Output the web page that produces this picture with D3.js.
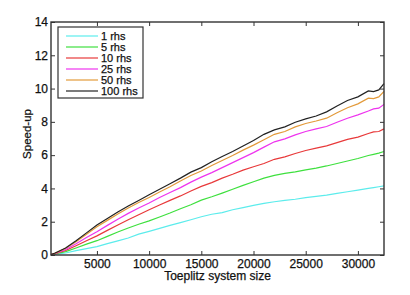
<!DOCTYPE html>
<html>
<head>
<meta charset="utf-8">
<script src="https://cdn.jsdelivr.net/npm/d3@7"></script>
<style>
    body { margin: 0; background: #fff; }
    text { font-family: "Liberation Sans", Arial, sans-serif; fill: #111; stroke: #111; stroke-width: 0.25px; }
</style>
</head>
<body>
<svg id="graphSpeedup"></svg>
<script>
// problem sizes (x) and measured speed-up for each number of right-hand sides
const sizes = [600, 1000, 2000, 3000, 4000, 5000, 6000, 7000, 8000, 9000, 10000, 11000, 12000, 13000,
    14000, 15000, 16000, 17000, 18000, 19000, 20000, 21000, 22000, 23000, 24000, 25000, 26000, 27000,
    28000, 29000, 30000, 31000, 31500, 32000, 32500];

const rhs1 = [0.01, 0.04, 0.12, 0.26, 0.38, 0.5, 0.68, 0.85, 1.02, 1.25, 1.42, 1.6, 1.78, 1.95,
    2.12, 2.3, 2.45, 2.55, 2.72, 2.85, 2.98, 3.1, 3.2, 3.28, 3.35, 3.45, 3.52, 3.6,
    3.7, 3.8, 3.9, 4.0, 4.05, 4.1, 4.15];
const rhs5 = [0.02, 0.06, 0.2, 0.42, 0.65, 0.86, 1.12, 1.38, 1.62, 1.85, 2.05, 2.28, 2.52, 2.78,
    3.02, 3.3, 3.5, 3.72, 3.95, 4.18, 4.4, 4.62, 4.78, 4.9, 5.0, 5.12, 5.22, 5.35,
    5.5, 5.65, 5.8, 5.98, 6.05, 6.12, 6.22];
const rhs10 = [0.02, 0.08, 0.27, 0.56, 0.86, 1.15, 1.48, 1.8, 2.12, 2.42, 2.72, 3.0, 3.28, 3.55,
    3.85, 4.12, 4.35, 4.62, 4.85, 5.1, 5.3, 5.5, 5.75, 5.9, 6.1, 6.28, 6.42, 6.56,
    6.75, 6.95, 7.08, 7.3, 7.4, 7.42, 7.58];
const rhs25 = [0.02, 0.1, 0.33, 0.68, 1.05, 1.4, 1.78, 2.15, 2.5, 2.82, 3.12, 3.45, 3.76, 4.05,
    4.38, 4.68, 4.95, 5.25, 5.55, 5.85, 6.15, 6.48, 6.8, 6.98, 7.22, 7.42, 7.58, 7.72,
    7.98, 8.22, 8.42, 8.65, 8.78, 8.82, 9.05];
const rhs50 = [0.02, 0.11, 0.4, 0.8, 1.25, 1.7, 2.08, 2.46, 2.82, 3.15, 3.46, 3.78, 4.1, 4.45,
    4.78, 5.05, 5.38, 5.68, 5.98, 6.3, 6.6, 6.92, 7.25, 7.42, 7.7, 7.9, 8.05, 8.22,
    8.55, 8.85, 9.08, 9.42, 9.4, 9.5, 9.83];
const rhs100 = [0.02, 0.12, 0.42, 0.86, 1.33, 1.8, 2.2, 2.58, 2.95, 3.28, 3.62, 3.95, 4.28, 4.62,
    4.98, 5.25, 5.6, 5.92, 6.22, 6.55, 6.88, 7.25, 7.52, 7.7, 7.98, 8.18, 8.35, 8.6,
    8.95, 9.28, 9.5, 9.86, 9.82, 9.92, 10.3];

const seriesNames = ["1 rhs", "5 rhs", "10 rhs", "25 rhs", "50 rhs", "100 rhs"];
const seriesValues = [rhs1, rhs5, rhs10, rhs25, rhs50, rhs100];
const seriesColors = ["#5cecec", "#3ee03e", "#e8393a", "#ee33ee", "#e39a3a", "#222222"];

const xTicks = [5000, 10000, 15000, 20000, 25000, 30000];
const yTicks = [0, 2, 4, 6, 8, 10, 12, 14];

let margin = {top: 22, right: 26, bottom: 40, left: 51};
let width = 410 - margin.left - margin.right;
let height = 295 - margin.top - margin.bottom;

let svg = d3.select('#graphSpeedup')
    .attr("width", 410)
    .attr("height", 295);

let x = d3.scaleLinear().domain([600, 32500]).range([0, width]);
let y = d3.scaleLinear().domain([0, 14]).range([height, 0]);

let plot = svg.append("g")
    .attr("transform", "translate(" + margin.left + "," + margin.top + ")");

let line = d3.line()
    .x(function (d, i) { return x(sizes[i]); })
    .y(function (d) { return y(d); });

// curves
plot.selectAll(".speedLine")
    .data(seriesValues).enter()
    .append("path")
    .attr("class", "speedLine")
    .attr("fill", "none")
    .attr("stroke", function (d, i) { return seriesColors[i]; })
    .attr("stroke-width", 1.2)
    .attr("d", line);

// axes with inward ticks, matlab style box
function styleAxis(g) {
    g.select(".domain").remove();
    g.selectAll(".tick line").attr("stroke", "#333");
    g.selectAll(".tick text")
        .style("font-family", "'Liberation Sans', Arial, sans-serif")
        .style("font-size", "12px")
        .attr("fill", "#111");
}

plot.append("g")
    .attr("transform", "translate(0," + height + ")")
    .call(d3.axisBottom(x).tickValues(xTicks).tickSize(-4).tickPadding(4).tickFormat(d3.format("d")))
    .call(styleAxis);

plot.append("g")
    .call(d3.axisTop(x).tickValues(xTicks).tickSize(-4).tickFormat(""))
    .call(styleAxis);

plot.append("g")
    .call(d3.axisLeft(y).tickValues(yTicks).tickSize(-4).tickPadding(3))
    .call(styleAxis);

plot.append("g")
    .attr("transform", "translate(" + width + ",0)")
    .call(d3.axisRight(y).tickValues(yTicks).tickSize(-4).tickFormat(""))
    .call(styleAxis);

plot.append("rect")
    .attr("width", width)
    .attr("height", height)
    .attr("fill", "none")
    .attr("stroke", "#333")
    .attr("stroke-width", 1.4);

// axis titles
svg.append("text")
    .attr("x", margin.left + width / 2)
    .attr("y", 280)
    .attr("text-anchor", "middle")
    .style("font-size", "12px")
    .text("Toeplitz system size");

svg.append("text")
    .attr("transform", "translate(31,134) rotate(-90)")
    .attr("text-anchor", "middle")
    .style("font-size", "11.5px")
    .text("Speed-up");

// legend
let legendBox = svg.append("g")
    .attr("transform", "translate(58,27)");

legendBox.append("rect")
    .attr("width", 85)
    .attr("height", 71)
    .attr("fill", "#fff")
    .attr("stroke", "#333")
    .attr("stroke-width", 1.2);

let legend = legendBox.selectAll(".legend")
    .data(seriesNames).enter()
    .append("g")
    .attr("class", "legend")
    .attr("transform", function (d, i) { return "translate(0," + (9 + 11 * i) + ")"; });

legend.append("line")
    .attr("x1", 8)
    .attr("x2", 40)
    .attr("stroke", function (d, i) { return seriesColors[i]; })
    .attr("stroke-width", 1.2);

legend.append("text")
    .attr("x", 43)
    .attr("dy", "0.35em")
    .style("font-size", "11px")
    .text(function (d) { return d; });
</script>
</body>
</html>
